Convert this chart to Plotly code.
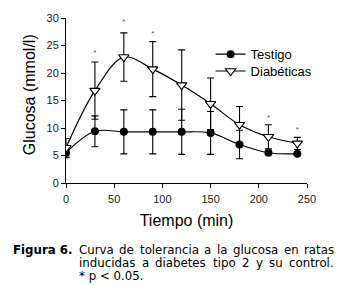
import plotly.graph_objects as go

# Data
tiempo = [0, 30, 60, 90, 120, 150, 180, 210, 240]
testigo = [5.5, 9.4, 9.3, 9.3, 9.3, 9.1, 7.0, 5.5, 5.3]
testigo_err = [0.9, 2.8, 4.0, 4.0, 4.1, 3.9, 2.6, 0.3, 0.3]
diabeticas = [6.4, 16.8, 22.9, 20.7, 17.8, 14.4, 10.6, 8.4, 7.2]
diabeticas_err = [1.7, 5.2, 4.4, 5.0, 6.4, 4.7, 3.3, 2.2, 1.1]
star_x = [30, 60, 90, 210, 240]
star_y = [23.6, 29.2, 27.1, 11.9, 9.6]
x_ticks = [0, 50, 100, 150, 200, 250]
y_ticks = [0, 5, 10, 15, 20, 25, 30]

fig = go.Figure()

fig.add_trace(go.Scatter(
    x=tiempo, y=testigo, name="Testigo", mode="lines+markers", legend="legend",
    line=dict(color="black", width=1.2, shape="spline"),
    marker=dict(symbol="circle", size=8, color="black"),
    error_y=dict(type="data", array=testigo_err, color="black", thickness=1.1, width=3.5),
))
fig.add_trace(go.Scatter(
    x=tiempo, y=diabeticas, name="Diabéticas", mode="lines+markers", legend="legend2",
    line=dict(color="black", width=1.2, shape="spline"),
    marker=dict(symbol="triangle-down", size=9, color="white",
                line=dict(color="black", width=1.1)),
    error_y=dict(type="data", array=diabeticas_err, color="black", thickness=1.1, width=3.5),
))
fig.add_trace(go.Scatter(
    x=star_x, y=star_y, mode="text", text=["*"] * len(star_x),
    textfont=dict(family="Liberation Sans, Arial", size=8, color="#555"),
    showlegend=False, hoverinfo="skip",
))

axis_common = dict(
    showgrid=False, zeroline=False, showline=True, linecolor="black", linewidth=1,
    ticks="outside", ticklen=4, tickcolor="black", tickwidth=1,
    tickfont=dict(family="Liberation Sans, Arial", size=11, color="#222"),
)

def px_x(p):
    return (p - 66) / 241

def px_y(p):
    return (183 - p) / 171

legend_common = dict(x=0.6, xanchor="left", yanchor="middle",
                     font=dict(size=13, family="Liberation Sans, Arial"),
                     bgcolor="rgba(0,0,0,0)", itemwidth=30)

fig.update_layout(
    width=340, height=294,
    margin=dict(l=66, r=33, t=12, b=111),
    paper_bgcolor="white", plot_bgcolor="white",
    font=dict(family="Liberation Sans, Arial", color="black"),
    xaxis=dict(range=[0, 250], tickvals=x_ticks, ticklabelstandoff=2, **axis_common,
               title=dict(text="Tiempo (min)", font=dict(size=16), standoff=10)),
    yaxis=dict(range=[0, 30], tickvals=y_ticks, **axis_common),
    legend=dict(y=px_y(49.5), **legend_common),
    legend2=dict(y=px_y(67), **legend_common),
    showlegend=True,
)

# y-axis title
fig.add_annotation(text="Glucosa (mmol/l)", x=px_x(29), y=px_y(92), xref="paper", yref="paper",
                   textangle=-90, xanchor="center", yanchor="middle", showarrow=False,
                   font=dict(family="Liberation Sans, Arial", size=16, color="black"))

# ---- caption (justified, DejaVu Sans advance widths in 1/2048 em) ----
CAP_SIZE = 11.8
W = {" ": 651, ".": 651, "2": 1303, "C": 1430, "a": 1255, "b": 1300, "c": 1126, "d": 1300,
     "e": 1260, "g": 1300, "i": 569, "l": 569, "n": 1298, "o": 1253, "p": 1300, "r": 842,
     "s": 1067, "t": 803, "u": 1298, "v": 1212, "y": 1212}

def text_w(s):
    return sum(W.get(ch, 1200) for ch in s) / 2048 * CAP_SIZE

cap_font = dict(family="DejaVu Sans, Verdana", size=CAP_SIZE, color="black")

fig.add_annotation(text="<b>Figura 6.</b>", x=px_x(11), y=px_y(252.5), xref="paper", yref="paper",
                   xanchor="left", yanchor="middle", showarrow=False, font=cap_font)

caption_lines = [
    "Curva de tolerancia a la glucosa en ratas",
    "inducidas a diabetes tipo 2 y su control.",
]
LEFT, RIGHT = 78, 333
for i, line in enumerate(caption_lines):
    words = line.split(" ")
    gap = (RIGHT - LEFT - sum(text_w(w) for w in words)) / (len(words) - 1)
    xpos = LEFT
    for w in words:
        fig.add_annotation(text=w, x=px_x(xpos), y=px_y(252.5 + 13.7 * i), xref="paper",
                           yref="paper", xanchor="left", yanchor="middle", showarrow=False,
                           font=cap_font, borderpad=0)
        xpos += text_w(w) + gap
fig.add_annotation(text="* p &lt; 0.05.", x=px_x(LEFT), y=px_y(252.5 + 13.7 * 2), xref="paper",
                   yref="paper", xanchor="left", yanchor="middle", showarrow=False,
                   font=cap_font, borderpad=0)

fig.write_html("out.html", config={"displayModeBar": False},
               post_script="document.body.style.margin='0';")
